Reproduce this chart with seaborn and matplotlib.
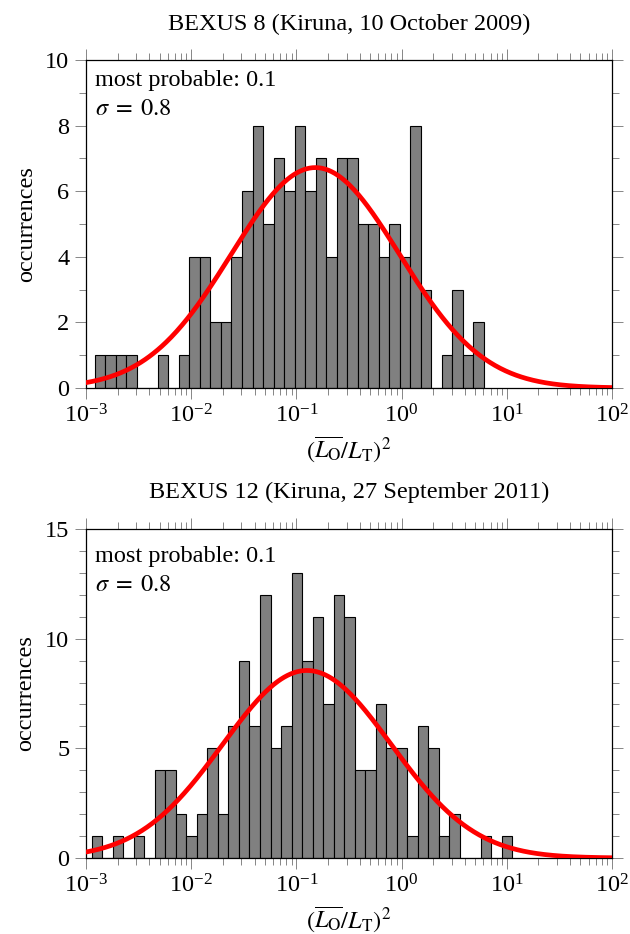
import numpy as np
import pandas as pd
import matplotlib
matplotlib.use("Agg")
import matplotlib.pyplot as plt
import seaborn as sns
from matplotlib.ticker import MultipleLocator, LogLocator, NullFormatter, LogFormatterSciNotation

# ---------------- data ----------------
titles = ["BEXUS 8 (Kiruna, 10 October 2009)",
          "BEXUS 12 (Kiruna, 27 September 2011)"]

# histogram counts per 0.1-decade bin (log10 units)
counts_b8 = [1, 1, 1, 1, 0, 0, 1, 0, 1, 4, 4, 2, 2, 4, 6, 8, 5, 7, 6, 8,
             6, 7, 4, 7, 7, 5, 5, 4, 5, 4, 8, 3, 0, 1, 3, 1, 2]
counts_b12 = [1, 0, 1, 0, 1, 0, 4, 4, 2, 1, 2, 5, 2, 6, 9, 6, 12, 5, 6, 13,
              9, 11, 7, 12, 11, 4, 4, 7, 5, 5, 1, 6, 5, 1, 2, 0, 0, 1, 0, 1]
first_edge_log10 = [-2.917, -2.946]
bin_width_log10 = 0.1

# fitted log-normal curve parameters (log10 units)
fit_center = [-0.82, -0.90]
fit_sigma = [0.80, 0.80]
fit_peak = [6.72, 8.55]

most_probable = ["0.1", "0.1"]
sigma_text = ["0.8", "0.8"]

y_max = [10, 15]
y_major = [2, 5]
x_limits = (1e-3, 1e2)

all_counts = [counts_b8, counts_b12]

# ---------------- style ----------------
FS = 17.5
sns.set_style("ticks")
plt.rcParams["font.family"] = ["Liberation Serif", "DejaVu Serif"]
plt.rcParams["mathtext.fontset"] = "stix"
plt.rcParams["font.size"] = FS
plt.rcParams["text.color"] = "black"
plt.rcParams["axes.labelcolor"] = "black"
plt.rcParams["xtick.labelcolor"] = "black"
plt.rcParams["ytick.labelcolor"] = "black"

fig = plt.figure(figsize=(6.3, 9.34), dpi=100)
W, H = 630, 934
axes_px = [(86, 60, 612, 388), (86, 529, 612, 858)]
text_y = [(0.921, 0.832), (0.901, 0.813)]
title_y_px = [30, 498]

for i in range(2):
    l, t, r, b = axes_px[i]
    ax = fig.add_axes([l / W, 1 - b / H, (r - l) / W, (b - t) / H])
    counts = np.asarray(all_counts[i], dtype=float)
    edges = first_edge_log10[i] + bin_width_log10 * np.arange(len(counts) + 1)
    centers = 10 ** ((edges[:-1] + edges[1:]) / 2)
    df = pd.DataFrame({"value": centers, "count": counts})
    sns.histplot(data=df, x="value", weights="count", bins=list(edges),
                 log_scale=True, stat="count", color="#808080", alpha=1.0,
                 edgecolor="black", linewidth=0.8, ax=ax, zorder=2)

    xs = np.logspace(-3, 2, 500)
    ys = fit_peak[i] * np.exp(-(np.log10(xs) - fit_center[i]) ** 2 / (2 * fit_sigma[i] ** 2))
    sns.lineplot(x=xs, y=ys, color="red", linewidth=3.4, ax=ax, zorder=3)

    ax.set_xscale("log")
    ax.set_xlim(*x_limits)
    ax.set_ylim(0, y_max[i])
    ax.yaxis.set_major_locator(MultipleLocator(y_major[i]))
    ax.yaxis.set_minor_locator(MultipleLocator(1))
    ax.xaxis.set_major_locator(LogLocator(base=10, numticks=10))
    ax.xaxis.set_minor_locator(LogLocator(base=10, subs=np.arange(2, 10), numticks=20))
    ax.xaxis.set_minor_formatter(NullFormatter())
    ax.xaxis.set_major_formatter(LogFormatterSciNotation())

    for s in ax.spines.values():
        s.set_visible(True)
        s.set_color("black")
        s.set_linewidth(0.9)
    ax.tick_params(which="both", direction="out", top=True, right=True,
                   color="0.45", width=0.6, labelsize=FS, labelcolor="black")
    ax.tick_params(which="major", length=8)
    ax.tick_params(which="minor", length=5)
    ax.tick_params(axis="x", which="major", pad=4)
    ax.tick_params(axis="y", which="major", pad=4)

    ax.set_xlabel(r"$(\overline{L_{\mathrm{O}}}/L_{\mathrm{T}})^2$", fontsize=FS,
                  labelpad=5, color="black")
    ax.set_ylabel("occurrences", fontsize=FS, labelpad=6, color="black")

    ax.text(0.018, text_y[i][0], "most probable: " + most_probable[i],
            transform=ax.transAxes, ha="left", va="baseline", fontsize=FS, color="black")
    ax.text(0.018, text_y[i][1], r"$\sigma \;=\; " + sigma_text[i] + "$",
            transform=ax.transAxes, ha="left", va="baseline", fontsize=FS, color="black")

    fig.text(((l + r) / 2) / W, 1 - title_y_px[i] / H, titles[i],
             ha="center", va="baseline", fontsize=FS, color="black")

fig.savefig("out.png", dpi=100)
